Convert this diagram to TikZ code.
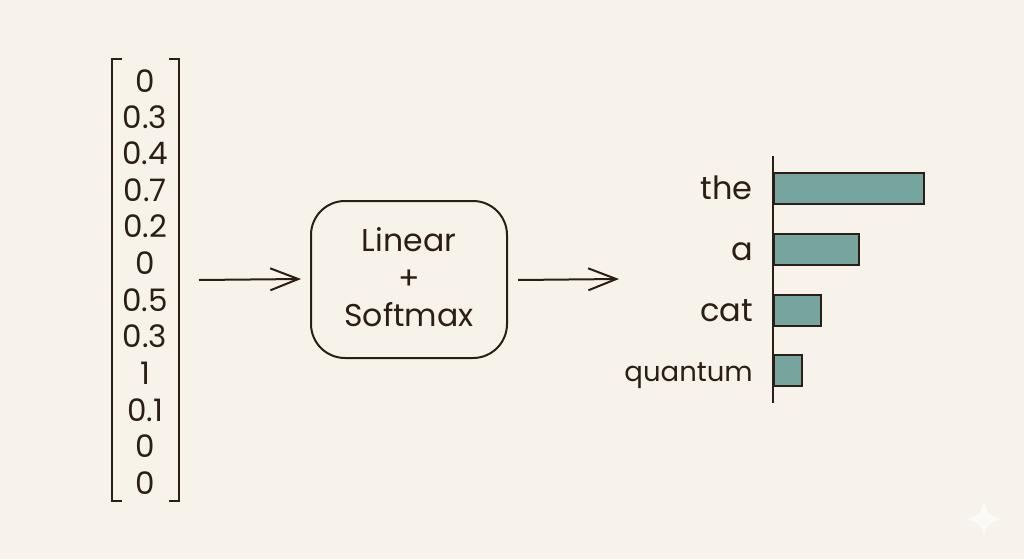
\documentclass[tikz,border=0pt]{standalone}
\usepackage{fontspec}
\setmainfont{Poppins}
\usetikzlibrary{arrows.meta,shapes.geometric}
\definecolor{paper}{HTML}{F7F3EB}
\definecolor{ink}{HTML}{2A1E17}
\definecolor{teal}{HTML}{76A5A0}
\definecolor{spark}{HTML}{FCFAF6}
\tikzset{
  x=1pt,y=-1pt,
  stroke/.style={draw=ink,line width=2pt},
  num/.style={font=\fontsize{31}{31}\selectfont,text=ink,inner sep=0pt,anchor=center},
  lbl/.style={font=\fontsize{32}{32}\selectfont,text=ink,inner sep=0pt,anchor=base east},
  boxtxt/.style={font=\fontsize{31.5}{31.5}\selectfont,text=ink,inner sep=0pt,anchor=base},
  bar/.style={stroke,fill=teal,anchor=west,minimum height=31pt,inner sep=0pt,rectangle},
  flow/.style={stroke,-{Straight Barb[length=28pt,width=22pt,line width=2pt]}},
}
\begin{document}
\begin{tikzpicture}
\useasboundingbox[fill=paper] (0,0) rectangle (1024,559);
% sparkle
\fill[spark] (984,500) .. controls (986,513) and (990,517) .. (1002,519) .. controls (990,521) and (986,525) .. (984,538) .. controls (982,525) and (978,521) .. (966,519) .. controls (978,517) and (982,513) .. (984,500) -- cycle;
% vector
\draw[stroke,line width=2.4pt] (122,59) -- (112,59) -- (112,501) -- (122,501);
\draw[stroke,line width=2.4pt] (169,59) -- (179,59) -- (179,501) -- (169,501);
\node[num] (v1) at (145,81) {0};
\node[num] (v2) at (145,117) {0.3};
\node[num] (v3) at (145,153) {0.4};
\node[num] (v4) at (145,190) {0.7};
\node[num] (v5) at (145,226) {0.2};
\node[num] (v6) at (145,263) {0};
\node[num] (v7) at (145,300) {0.5};
\node[num] (v8) at (145,336) {0.3};
\node[num] (v9) at (145,373) {1};
\node[num] (v10) at (145,410) {0.1};
\node[num] (v11) at (145,446) {0};
\node[num] (v12) at (145,483) {0};
% box
\node[stroke,rectangle,rounded corners=34pt,minimum width=196pt,minimum height=157pt,inner sep=0pt] (box) at (409,279.5) {};
\node[boxtxt] (t1) at (409,251) {Linear};
\node[boxtxt] (t2) at (409,289) {+};
\node[boxtxt] (t3) at (409,326) {Softmax};
% connectors
\coordinate (a1s) at (199,280);
\coordinate (a2e) at (619,279);
\draw[flow] (a1s) -- ([xshift=-9pt,yshift=.5pt]box.west);
\draw[flow] ([xshift=10pt,yshift=-.5pt]box.east) -- (a2e);
% bars
\node[bar,minimum width=150pt] (b1) at (773,188.5) {};
\node[bar,minimum width=85pt] (b2) at (773,249) {};
\node[bar,minimum width=47pt] (b3) at (773,310) {};
\node[bar,minimum width=28pt] (b4) at (773,370) {};
\coordinate (axt) at (773,156);
\coordinate (axb) at (773,403);
\draw[stroke] (axt) -- (axb);
\node[lbl] (l1) at (753,199) {the};
\node[lbl] (l2) at (753,260) {a};
\node[lbl] (l3) at (753,321) {cat};
\node[lbl,font=\fontsize{27.5}{27.5}\selectfont] (l4) at (753,381) {quantum};
\end{tikzpicture}
\end{document}
